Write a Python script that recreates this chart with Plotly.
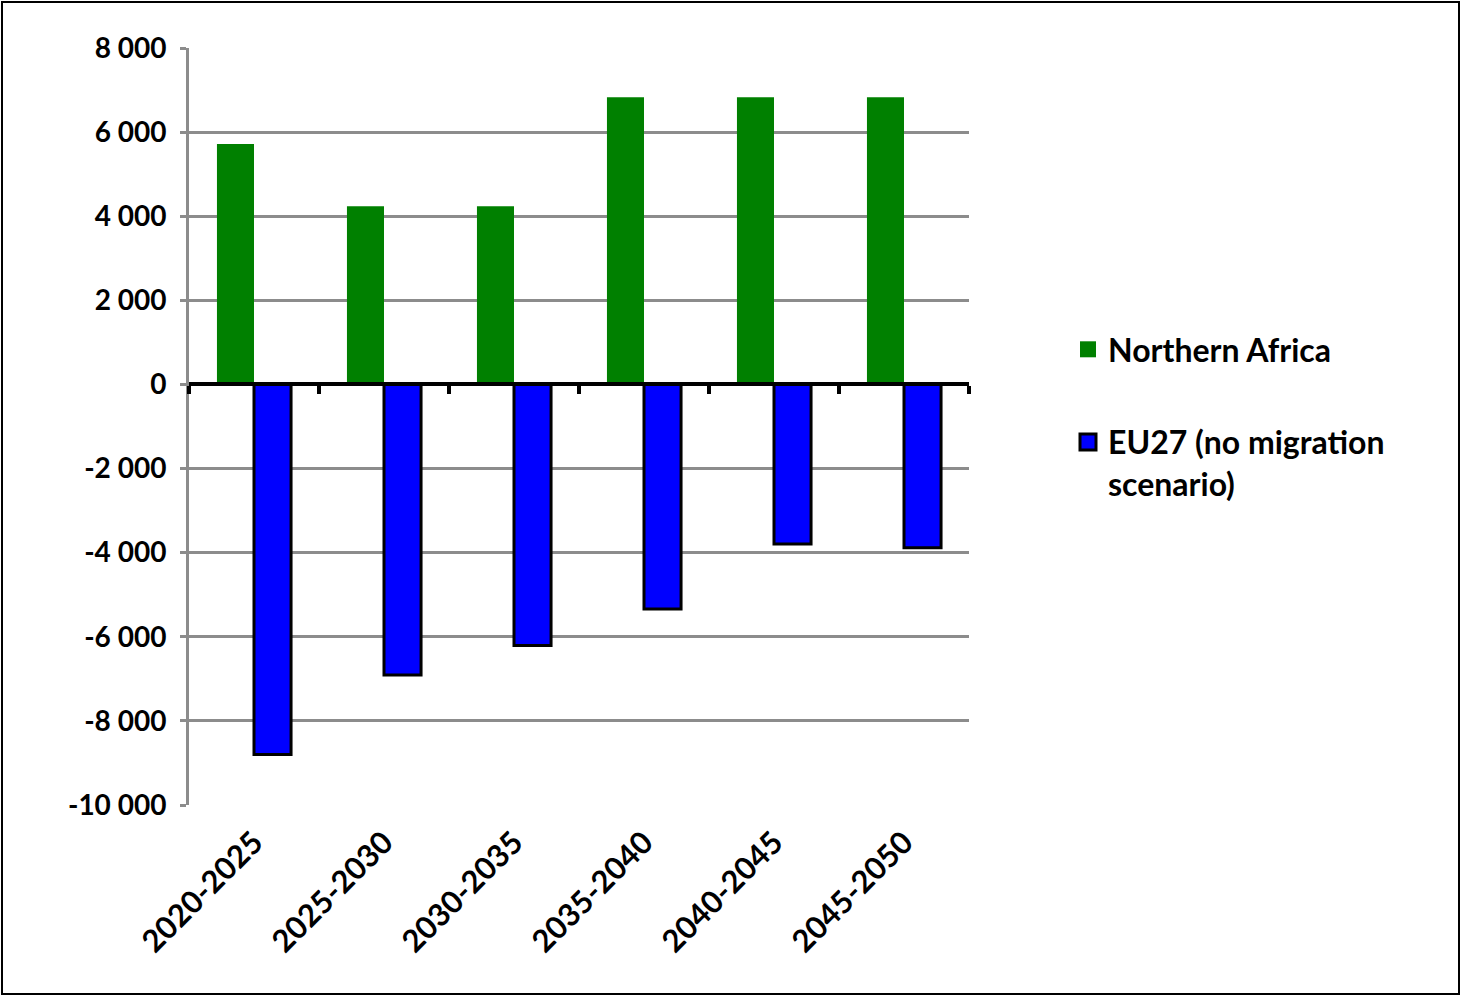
import plotly.graph_objects as go

categories = ["2020-2025", "2025-2030", "2030-2035", "2035-2040", "2040-2045", "2045-2050"]
northern_africa = [5720, 4240, 4240, 6830, 6830, 6830]
eu27_no_migration = [-8800, -6910, -6210, -5340, -3795, -3885]
y_tickvals = [8000, 6000, 4000, 2000, 0, -2000, -4000, -6000, -8000, -10000]
y_ticktext = ["8 000", "6 000", "4 000", "2 000", "0", "-2 000", "-4 000", "-6 000", "-8 000", "-10 000"]
series_names = ["Northern Africa", "EU27 (no migration<br>scenario)"]
series_colors = ["#008000", "#0000ff"]

W, H = 1462, 997
L, R, T, B = 189, 493, 48, 192
pw, ph = W - L - R, H - T - B
FONT = "Lato"
YMIN, YMAX = -10000, 8000
n = len(categories)

fig = go.Figure()
fig.add_trace(go.Bar(
    x=categories, y=northern_africa, name=series_names[0],
    marker=dict(color=series_colors[0], line=dict(width=0)),
    showlegend=False,
))
fig.add_trace(go.Bar(
    x=categories, y=eu27_no_migration, name=series_names[1],
    marker=dict(color=series_colors[1], line=dict(color="#000000", width=3)),
    showlegend=False,
))
# invisible carrier so the bottom label axis knows the categories
fig.add_trace(go.Scatter(
    x=categories, y=[None] * n, xaxis="x2", mode="markers",
    showlegend=False, hoverinfo="skip",
))
# legend entries with larger square keys
fig.add_trace(go.Scatter(
    x=[None], y=[None], mode="markers", name=series_names[0],
    marker=dict(symbol="square", size=20, color=series_colors[0], line=dict(width=0)),
    legendgroup="a",
))
fig.add_trace(go.Scatter(
    x=[None], y=[None], mode="markers", name=series_names[1],
    marker=dict(symbol="square", size=18, color=series_colors[1], line=dict(color="black", width=3)),
    legendgroup="b",
))

fig.update_layout(
    width=W, height=H,
    margin=dict(l=L, r=R, t=T, b=B, autoexpand=False),
    paper_bgcolor="white", plot_bgcolor="white",
    barmode="group", bargap=0.43, bargroupgap=0,
    font=dict(family=FONT, size=28, color="black", weight="bold"),
    xaxis=dict(
        type="category", anchor="free", position=(0 - YMIN) / (YMAX - YMIN),
        showgrid=False, showline=True, linecolor="black", linewidth=4,
        ticks="outside", tickson="boundaries", ticklen=8, tickwidth=4, tickcolor="black",
        showticklabels=False, range=[-0.5, n - 0.5],
    ),
    xaxis2=dict(
        type="category", overlaying="x", anchor="y", side="bottom",
        range=[-0.5, n - 0.5],
        showgrid=False, showline=False, zeroline=False, ticks="",
        tickangle=-45, tickfont=dict(family=FONT, size=31, weight="bold"),
        ticklabelstandoff=12,
    ),
    yaxis=dict(
        range=[YMIN, YMAX], tickvals=y_tickvals, ticktext=y_ticktext,
        showgrid=True, gridcolor="#8c8c8c", gridwidth=3,
        showline=True, linecolor="#8c8c8c", linewidth=3,
        ticks="outside", ticklen=6, tickwidth=3, tickcolor="#8c8c8c",
        zeroline=False,
        tickfont=dict(family=FONT, size=28, weight="bold"),
        ticklabelstandoff=8,
    ),
    legend=dict(
        x=(1068 - L) / pw, y=(H - B - 322) / ph, xanchor="left", yanchor="top",
        font=dict(family=FONT, size=32, weight="bold"),
        tracegroupgap=48, traceorder="grouped", itemwidth=30, valign="top",
        bgcolor="rgba(0,0,0,0)",
    ),
    showlegend=True,
    shapes=[dict(
        type="rect", xref="paper", yref="paper",
        x0=(2 - L) / pw, x1=(W - 3 - L) / pw,
        y0=-(H - 3 - (H - B)) / ph, y1=(H - B - 2) / ph,
        line=dict(color="black", width=2), fillcolor="rgba(0,0,0,0)",
        layer="above",
    )],
)

fig.write_html("out.html", config={"displayModeBar": False},
               post_script="document.body.style.margin='0';")
